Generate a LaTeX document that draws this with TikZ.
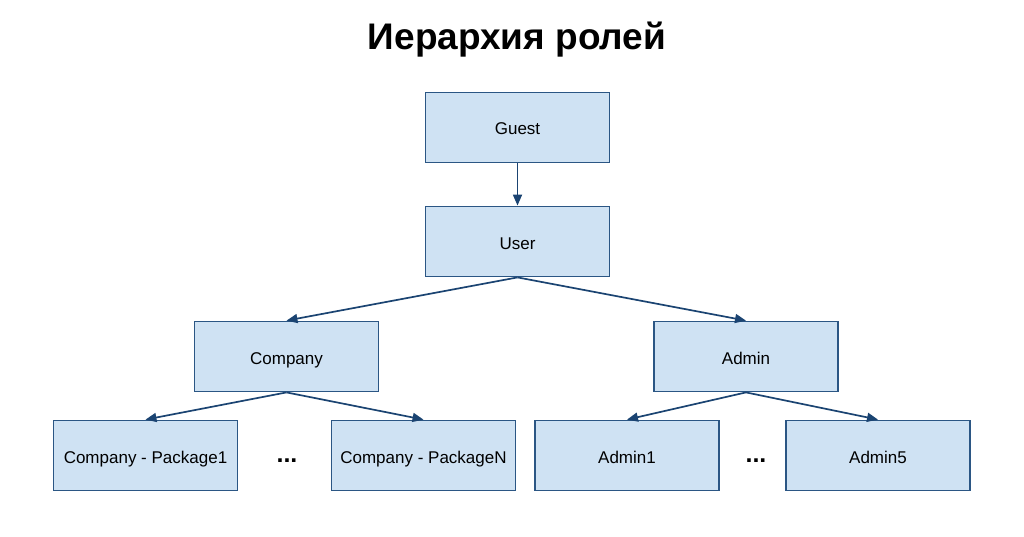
\documentclass[tikz,border=0pt]{standalone}
\usepackage{fontspec}
\setmainfont{Liberation Sans}
\usepackage{tikz}
\usetikzlibrary{arrows.meta, positioning}

\definecolor{boxfill}{HTML}{CFE2F3}
\definecolor{boxline}{HTML}{2B5684}
\definecolor{linkline}{HTML}{1B4472}

\tikzset{
    rolebox/.style={draw=boxline, fill=boxfill, line width=1.8pt, minimum width=184pt,
        minimum height=70pt, inner sep=0pt, text height=18pt, text depth=3pt,
        font=\fontsize{17}{19}\selectfont},
    link/.style={draw=linkline, line width=1.7pt, -{Triangle[length=11pt,width=9pt]}},
    dots/.style={font=\fontsize{25}{27}\selectfont\bfseries}
}

\begin{document}
\begin{tikzpicture}[x=1pt, y=-1pt]
    \useasboundingbox (0, 0) rectangle (1024, 537);

    % Title
    \node[font=\fontsize{37}{42}\selectfont\bfseries] (title) at (517, 40) {Иерархия ролей};

    % Roles
    \node[rolebox] (guest) at (517.5, 127.5) {Guest};
    \node[rolebox] (user) at (517.5, 241.5) {User};
    \node[rolebox] (company) at (286.5, 356.5) {Company};
    \node[rolebox] (admin) at (746, 356.5) {Admin};

    % Sub roles
    \node[rolebox] (pkg1) at (145.5, 455.5) {Company - Package1};
    \node[rolebox] (pkgN) at (423.5, 455.5) {Company - PackageN};
    \node[rolebox] (adm1) at (627, 455.5) {Admin1};
    \node[rolebox] (adm5) at (878, 455.5) {Admin5};

    \node[dots] (cdots) at (287, 461) {...};
    \node[dots] (adots) at (756, 461) {...};

    % Links
    \draw[link] (guest.south) -- (user.north);
    \draw[link] (user.south) -- (company.north);
    \draw[link] (user.south) -- (admin.north);
    \draw[link] (company.south) -- (pkg1.north);
    \draw[link] (company.south) -- (pkgN.north);
    \draw[link] (admin.south) -- (adm1.north);
    \draw[link] (admin.south) -- (adm5.north);
\end{tikzpicture}
\end{document}
